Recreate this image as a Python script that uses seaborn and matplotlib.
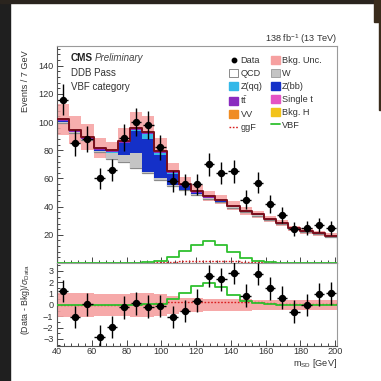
import numpy as np
import pandas as pd
import matplotlib
matplotlib.use("Agg")
import matplotlib.pyplot as plt
from matplotlib.patches import Patch, Rectangle
from matplotlib.lines import Line2D
from matplotlib.ticker import MultipleLocator, FuncFormatter
import seaborn as sns

# ---------------------------------------------------------------- data
edges = np.arange(40, 202, 7)              # 7 GeV bins, 40-201 GeV
centers = edges[:-1] + 3.5

data = [116, 85, 88, 60, 66, 89, 100, 98, 82, 58, 56, 56, 70, 64, 65, 45,
        57, 42, 34, 24, 25, 27, 25]

qcd = [99.5, 92, 87, 78.5, 73.5, 71.8, 67.2, 63.6, 58.9, 54.5, 51.5, 48.5,
       45.5, 43.3, 39.2, 36, 33.6, 30.2, 27.4, 24, 22.2, 20.6, 18.8]
wjets = [0.8, 0.8, 0.8, 1.2, 4.3, 4.8, 11, 1.2, 1.1, 0.8, 0.6, 0.5, 0.4, 0.3,
         0.3, 0.2, 0.2, 0.2, 0.2, 0.1, 0.1, 0.1, 0.1]
zbb = [0.2, 0.2, 0.2, 0.3, 0.5, 8.4, 15.6, 22.9, 16.6, 8, 2.5, 0.8, 0.4, 0.3,
       0.2, 0.2, 0.1, 0.1, 0.1, 0.1, 0.1, 0.1, 0.1]
zqq = [0.1, 0.1, 0.1, 0.1, 0.2, 0.4, 0.5, 3.8, 1.2, 0.4, 0.2, 0.1, 0.1, 0.1,
       0.1, 0.1, 0.1, 0.1, 0, 0, 0, 0, 0]
ttbar = [1.2, 1.2, 1.2, 1.2, 1.2, 1.2, 1.3, 1.3, 1.4, 1.3, 1.2, 1.0, 0.8, 0.7,
         0.6, 0.5, 0.5, 0.4, 0.4, 0.3, 0.3, 0.2, 0.2]
singlet = [0.1, 0.1, 0.1, 0.1, 0.1, 0.1, 0.1, 0.1, 0.1, 0.1, 0.1, 0.1, 0.1,
           0.1, 0.1, 0.1, 0.1, 0.1, 0.1, 0.1, 0.1, 0.1, 0.1]
vv = [0.05, 0.05, 0.05, 0.05, 0.1, 0.2, 0.2, 0.2, 0.1, 0.1, 0.05, 0.05, 0.05,
      0.05, 0.05, 0.05, 0.05, 0.05, 0, 0, 0, 0, 0]
bkgh = [0, 0, 0, 0, 0, 0, 0, 0, 0.05, 0.1, 0.1, 0.15, 0.2, 0.15, 0.1, 0.05,
        0, 0, 0, 0, 0, 0, 0]
bkg_unc = [11, 10, 9, 7, 6, 9, 11, 11, 9, 6, 4.5, 4, 3.5, 3.2, 3, 2.8, 2.6,
           2.4, 2.2, 2, 1.9, 1.8, 1.7]
vbf = [0, 0, 0, 0, 0, 0.1, 0.2, 0.4, 1.5, 4.5, 8.5, 12.8, 15.6, 12.8, 8, 3.3,
       1.4, 0.4, 0.2, 0.1, 0.1, 0, 0]
ggf = [0, 0, 0, 0, 0, 0.1, 0.2, 0.3, 0.5, 0.8, 1.1, 1.3, 1.5, 1.4, 1.2, 0.9,
       0.6, 0.4, 0.3, 0.2, 0.2, 0.1, 0.1]

# lower panel: (Data - Bkg)/sigma_Data
pulls = [1.24, -1.06, 0.06, -2.8, -1.94, -0.2, 0.15, -0.15, -0.1, -1.06,
         -0.53, 0.38, 2.56, 2.27, 2.85, 0.82, 2.74, 1.47, 0.65, -0.59, 0.0,
         0.94, 1.03]
pull_band = [1.05, 1.05, 1.05, 1.0, 0.95, 1.0, 1.05, 1.05, 0.95, 0.8, 0.65,
             0.6, 0.55, 0.55, 0.5, 0.5, 0.45, 0.45, 0.45, 0.45, 0.45, 0.45,
             0.45]
vbf_pull = [0, 0, 0, 0, 0, 0, 0.02, 0.05, 0.1, 0.53, 1.03, 1.68, 1.9, 1.55,
            0.88, 0.38, 0.15, 0.05, 0.03, 0.02, 0, 0, 0]
ggf_pull = [0, 0, 0, 0, 0, 0.02, 0.05, 0.1, 0.2, 0.25, 0.28, 0.3, 0.3, 0.3,
            0.28, 0.25, 0.22, 0.15, 0.1, 0.1, 0.08, 0.05, 0.05]

# ---------------------------------------------------------------- style
sns.set_theme(style="ticks")
plt.rcParams["font.family"] = ["Liberation Sans", "DejaVu Sans"]
plt.rcParams["mathtext.fontset"] = "custom"
plt.rcParams["mathtext.rm"] = "Liberation Sans"
plt.rcParams["mathtext.it"] = "Liberation Sans:italic"

C_QCD = "#ffffff"
C_W = "#c4c4c4"
C_ZQQ = "#33b8e8"
C_ZBB = "#1430c8"
C_TT = "#8a2bbf"
C_ST = "#e454c4"
C_VV = "#f08c22"
C_H = "#f2c31a"
C_UNC = "#f6a0a0"
C_TOT = "#7a0e1c"
C_GGF = "#d81e1e"
C_VBF = "#2fc02f"
FS = 6.6

W_PX = 381
fig = plt.figure(figsize=(W_PX / 100, W_PX / 100), dpi=100)
fig.patch.set_facecolor("white")


def fx(px):
    return px / W_PX


def fy(py):
    return 1 - py / W_PX


def step_hist(values, axis, **kw):
    """Binned step outline of per-bin values, drawn by seaborn."""
    frame = pd.DataFrame({"msd": centers, "w": np.asarray(values, float)})
    sns.histplot(data=frame, x="msd", weights="w", bins=list(edges),
                 element="step", fill=False, ax=axis, **kw)


ax = fig.add_axes([fx(57), fy(263), fx(337) - fx(57), fy(46) - fy(263)])
rax = fig.add_axes([fx(57), fy(346), fx(337) - fx(57), fy(263) - fy(346)],
                   sharex=ax)

# ---------------------------------------------------------------- main panel
components = [qcd, wjets, zbb, zqq, ttbar, singlet, vv, bkgh]
colors = [C_QCD, C_W, C_ZBB, C_ZQQ, C_TT, C_ST, C_VV, C_H]
cum = np.cumsum(np.array(components, dtype=float), axis=0)
total = cum[-1]

# uncertainty band sits above the QCD continuum but under the resonances
lo = total - np.array(bkg_unc)
hi = total + np.array(bkg_unc)
ax.stairs(hi, edges, baseline=lo, fill=True, color=C_UNC, alpha=0.85,
          lw=0, zorder=1)
ax.stairs(cum[0], edges, baseline=0, color="#8a8a8a", lw=0.9, zorder=2)
for k in range(1, len(components)):
    ax.stairs(cum[k], edges, baseline=cum[k - 1], fill=True,
              color=colors[k], lw=0, zorder=2)

step_hist(total, ax, color=C_TOT, linewidth=1.4, zorder=3)
step_hist(ggf, ax, color=C_GGF, linewidth=1.0, linestyle=(0, (1.2, 1.2)),
          zorder=3)
step_hist(vbf, ax, color=C_VBF, linewidth=1.3, zorder=3)

data_arr = np.array(data, dtype=float)
ax.errorbar(centers, data_arr, yerr=np.sqrt(data_arr), xerr=3.0, fmt="o",
            color="black", ms=4.3, elinewidth=1.0, capsize=0, zorder=5)

ax.set_xlim(40, 201)
ax.set_ylim(0, 154)
ax.set_xlabel("")
ax.set_ylabel("")
ax.yaxis.set_major_locator(MultipleLocator(20))
ax.yaxis.set_minor_locator(MultipleLocator(4))
ax.yaxis.set_major_formatter(FuncFormatter(lambda v, _: "" if v == 0 else f"{v:.0f}"))
ax.tick_params(axis="x", labelbottom=False)

# ---------------------------------------------------------------- ratio panel
rax.stairs(np.array(pull_band), edges, baseline=-np.array(pull_band),
           fill=True, color=C_UNC, alpha=0.9, lw=0, zorder=1)
step_hist(ggf_pull, rax, color=C_GGF, linewidth=1.0,
          linestyle=(0, (1.2, 1.2)), zorder=3)
step_hist(vbf_pull, rax, color=C_VBF, linewidth=1.3, zorder=3)
rax.errorbar(centers, pulls, yerr=1.0, xerr=3.0, fmt="o", color="black",
             ms=4.3, elinewidth=1.0, capsize=0, zorder=5)

rax.set_xlim(40, 201)
rax.set_ylim(-3.62, 3.7)
rax.set_xlabel("")
rax.set_ylabel("")
rax.yaxis.set_major_locator(MultipleLocator(1))
rax.yaxis.set_minor_locator(MultipleLocator(0.5))
rax.xaxis.set_major_locator(MultipleLocator(20))
rax.xaxis.set_minor_locator(MultipleLocator(4))

for a in (ax, rax):
    for side, sp in a.spines.items():
        sp.set_visible(True)
        sp.set_color("#555555" if side in ("left", "bottom") else "#9a9a9a")
        sp.set_linewidth(0.8)
    a.tick_params(which="both", direction="in", colors="#444444",
                  labelcolor="#333333", labelsize=FS, width=0.7)
    a.tick_params(which="major", length=4.5, pad=2.5)
    a.tick_params(which="minor", length=2.2)
    a.set_facecolor("white")
    a.grid(False)
rax.tick_params(axis="x", which="major", pad=1.0)

# ---------------------------------------------------------------- legend
handles = [
    Line2D([], [], marker="o", ls="none", color="black", ms=3.2),
    Patch(facecolor=C_QCD, edgecolor="#777777", lw=0.6),
    Patch(facecolor=C_ZQQ, edgecolor=C_ZQQ),
    Patch(facecolor=C_TT, edgecolor=C_TT),
    Patch(facecolor=C_VV, edgecolor=C_VV),
    Line2D([], [], color=C_GGF, lw=1.0, ls=(0, (1.2, 1.2))),
    Patch(facecolor=C_UNC, edgecolor=C_UNC),
    Patch(facecolor=C_W, edgecolor="#999999", lw=0.6),
    Patch(facecolor=C_ZBB, edgecolor=C_ZBB),
    Patch(facecolor=C_ST, edgecolor=C_ST),
    Patch(facecolor=C_H, edgecolor=C_H),
    Line2D([], [], color=C_VBF, lw=1.3),
]
labels = ["Data", "QCD", "Z(qq)", r"t$\bar{\mathrm{t}}$", "VV", "ggF",
          "Bkg. Unc.", "W", "Z(bb)", "Single t", "Bkg. H", "VBF"]
leg = ax.legend(handles, labels, ncol=2, frameon=False, fontsize=FS,
                loc="upper left",
                bbox_to_anchor=((229 - 57) / 280, 1 - 10 / 217),
                handlelength=1.0, handleheight=1.0, handletextpad=0.25,
                columnspacing=0.9, labelspacing=0.40, borderaxespad=0,
                borderpad=0)
for t in leg.get_texts():
    t.set_color("#333333")

# ---------------------------------------------------------------- texts
fig.text(fx(71), fy(58), "CMS", fontsize=7.2, fontweight="bold",
         color="#222222", ha="left", va="center")
fig.text(fx(95), fy(58), "Preliminary", fontsize=7.0, style="italic",
         color="#444444", ha="left", va="center")
fig.text(fx(71), fy(73), "DDB Pass", fontsize=7.0, color="#333333",
         ha="left", va="center")
fig.text(fx(71), fy(87), "VBF category", fontsize=7.0, color="#333333",
         ha="left", va="center")
fig.text(fx(337), fy(39), r"138 fb$^{-1}$ (13 TeV)", fontsize=6.6,
         color="#333333", ha="right", va="center")
fig.text(fx(25), fy(50), "Events / 7 GeV", fontsize=6.6, rotation=90,
         color="#333333", ha="center", va="top")
fig.text(fx(25), fy(300), r"(Data - Bkg)/$\sigma_{\mathrm{Data}}$",
         fontsize=6.4, rotation=90, color="#333333", ha="center",
         va="center")
fig.text(fx(337), fy(364), r"m$_{\mathrm{SD}}$ [GeV]", fontsize=6.6,
         color="#333333", ha="right", va="center")

# dark surround of the slide
dark = "#1f1f1f"
for x0, y0, w, h, c in [(0, 0, 10, 381, dark), (0, 0, 381, 3, "#2a241e"),
                        (374, 0, 7, 22, "#3a2c1c"), (379, 22, 2, 88, "#3a2c1c")]:
    fig.patches.append(Rectangle((fx(x0), fy(y0 + h)), w / W_PX, h / W_PX,
                                 transform=fig.transFigure, color=c,
                                 zorder=10))

fig.savefig("out.png", dpi=100)
